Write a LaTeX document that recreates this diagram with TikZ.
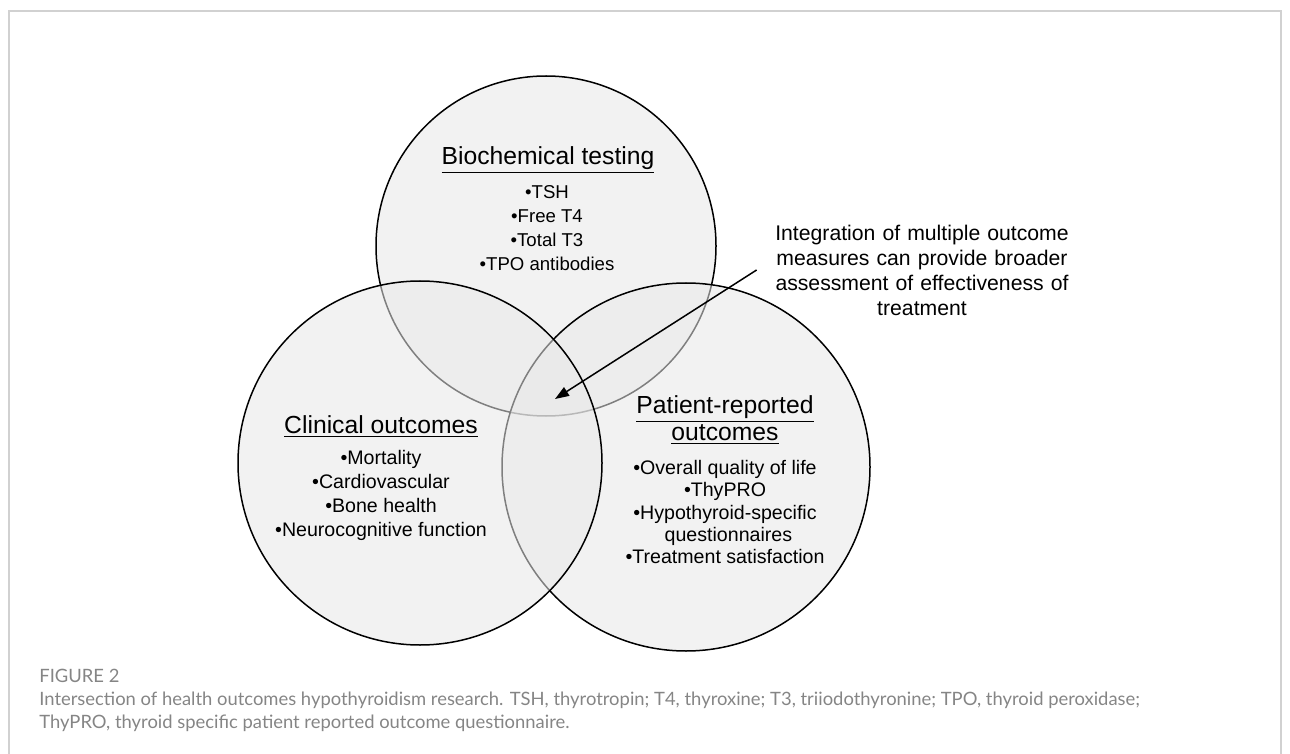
\documentclass[tikz,border=0pt]{standalone}
\usepackage{fontspec}
\setmainfont{Liberation Sans}
\newfontfamily\capfont{Lato}
\usetikzlibrary{arrows.meta}
\definecolor{vennfill}{gray}{0.91}
\definecolor{framegray}{gray}{0.82}
\definecolor{capgray}{gray}{0.52}
\begin{document}
\begin{tikzpicture}[x=0.5pt,y=-0.5pt,
  venn/.style={circle,draw=black,line width=0.75pt,fill=vennfill,fill opacity=0.55,inner sep=0pt},
  vennhead/.style={font=\fontsize{12.35}{13.5}\selectfont,align=center},
  vennitems/.style={font=\fontsize{9.8}{12}\selectfont,align=center},
  notetext/.style={font=\fontsize{10.6}{12.5}\selectfont,align=center,text width=150pt,inner sep=7.5pt},
  captext/.style={font=\capfont\fontsize{9.2}{11}\selectfont,text=capgray,anchor=base west,inner sep=0pt}]
\useasboundingbox (0,0) rectangle (1290,754);
\draw[framegray,line width=0.75pt] (9,754) -- (9,11) -- (1281,11) -- (1281,754);
\node[venn,minimum size=170pt] (bio) at (546,246) {};
\node[venn,minimum size=184pt] (pat) at (686,467) {};
\node[venn,minimum size=182pt] (clin) at (420,463) {};
\node[vennhead] (biohead) at (548,160) {\underline{Biochemical testing}};
\node[vennitems,font=\fontsize{9.3}{11.9}\selectfont] (biolist) at (547,228) {•TSH\\•Free T4\\•Total T3\\•TPO antibodies};
\node[vennhead] (clinhead) at (381,427) {\underline{Clinical outcomes}};
\node[vennitems] (clinlist) at (381,495) {•Mortality\\•Cardiovascular\\•Bone health\\•Neurocognitive function};
\node[vennhead] (pathead) at (725,420) {\underline{Patient-reported}\\\underline{outcomes}};
\node[vennitems,font=\fontsize{9.8}{11.2}\selectfont] (patlist) at (725,512) {•Overall quality of life\\•ThyPRO\\•Hypothyroid-specific\\\phantom{•}questionnaires\\•Treatment satisfaction};
\node[notetext] (note) at (922,270) {Integration of multiple outcome\\measures can provide broader\\assessment of effectiveness of\\treatment};
\coordinate (core) at (555,399);
\draw[line width=0.75pt,-{Triangle[length=7pt,width=5pt]}] (note.west) -- (core);
\node[captext] (fig) at (39,682) {FIGURE 2};
\node[captext] (cap1) at (39,705) {Intersection of health outcomes hypothyroidism research. TSH, thyrotropin; T4, thyroxine; T3, triiodothyronine; TPO, thyroid peroxidase;};
\node[captext] (cap2) at (39,728) {ThyPRO, thyroid specific patient reported outcome questionnaire.};
\end{tikzpicture}
\end{document}
